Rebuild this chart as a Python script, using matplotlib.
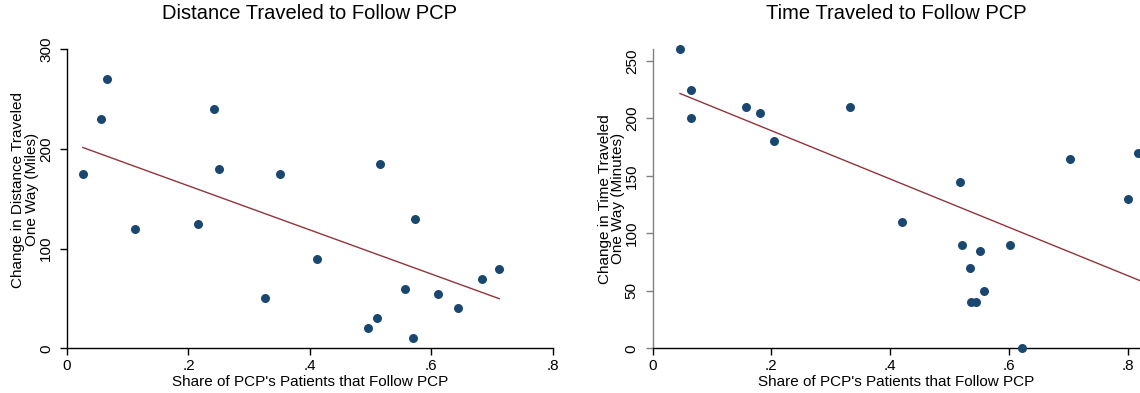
import matplotlib.pyplot as plt
import numpy as np

plt.rcParams['font.family'] = ['Liberation Sans', 'DejaVu Sans']

# share of the PCP's patients who follow the PCP, and change in travel (one way)
share_dist = [0.026, 0.056, 0.066, 0.112, 0.215, 0.242, 0.251, 0.326, 0.351, 0.411,
              0.495, 0.510, 0.516, 0.556, 0.570, 0.573, 0.611, 0.644, 0.684, 0.712]
miles = [175, 230, 270, 120, 125, 240, 180, 50, 175, 90,
         20, 30, 185, 60, 10, 130, 55, 40, 70, 80]

share_time = [0.046, 0.065, 0.064, 0.157, 0.180, 0.204, 0.333, 0.420, 0.518, 0.521,
              0.534, 0.536, 0.545, 0.551, 0.558, 0.601, 0.622, 0.702, 0.800, 0.818]
minutes = [260, 225, 200, 210, 205, 180, 210, 110, 145, 90,
           70, 40, 40, 85, 50, 90, 0, 165, 130, 170]

# fitted lines (end points of the linear fit)
fit_dist_x = [0.026, 0.712]
fit_dist_y = [201.5, 49.8]
fit_time_x = [0.046, 0.821]
fit_time_y = [221.6, 58.8]

navy = '#1a476f'
maroon = '#90353b'

fig = plt.figure(figsize=(11.4, 3.93), dpi=100)
ax1 = fig.add_axes([0.0588, 0.1137, 0.426, 0.7608])
ax2 = fig.add_axes([0.5725, 0.1137, 0.4275, 0.7608])

panels = [
    (ax1, share_dist, miles, fit_dist_x, fit_dist_y, 'Distance Traveled to Follow PCP',
     'Change in Distance Traveled\nOne Way (Miles)', (0, 300), [0, 100, 200, 300], 0.8, 'black', -0.0865, 0.53),
    (ax2, share_time, minutes, fit_time_x, fit_time_y, 'Time Traveled to Follow PCP',
     'Change in Time Traveled\nOne Way (Minutes)', (0, 260), [0, 50, 100, 150, 200, 250], 0.8207, '#808080', -0.0845, 0.5),
]

for ax, x, y, fx, fy, title, ylab, ylim, yticks, xmax, ycol, lx, ly in panels:
    ax.scatter(x, y, s=42, color=navy, zorder=3, clip_on=False, linewidths=0)
    ax.plot(fx, fy, color=maroon, lw=1.0, zorder=2)

    ax.set_xlim(0, xmax)
    ax.set_ylim(*ylim)
    ax.set_xticks([0, 0.2, 0.4, 0.6, 0.8])
    ax.set_xticklabels(['0', '.2', '.4', '.6', '.8'])
    ax.set_yticks(yticks)
    ax.tick_params(axis='x', length=5, width=1, pad=3, labelsize=11)
    ax.tick_params(axis='y', length=5, width=1, pad=5, labelsize=11, color=ycol)
    for lbl in ax.get_yticklabels():
        lbl.set_rotation(90)
        lbl.set_va('center')

    ax.spines['top'].set_visible(False)
    ax.spines['right'].set_visible(False)
    ax.spines['left'].set_color(ycol)
    ax.spines['left'].set_linewidth(1)
    ax.spines['bottom'].set_linewidth(1)

    ax.set_title(title, fontsize=14.5, pad=22)
    ax.set_xlabel("Share of PCP's Patients that Follow PCP", fontsize=11, va='center')
    ax.xaxis.set_label_coords(0.5, -0.112)
    ax.set_ylabel(ylab, fontsize=11, va='center', linespacing=0.95)
    ax.yaxis.set_label_coords(lx, ly)

fig.savefig('out.png', dpi=100)
